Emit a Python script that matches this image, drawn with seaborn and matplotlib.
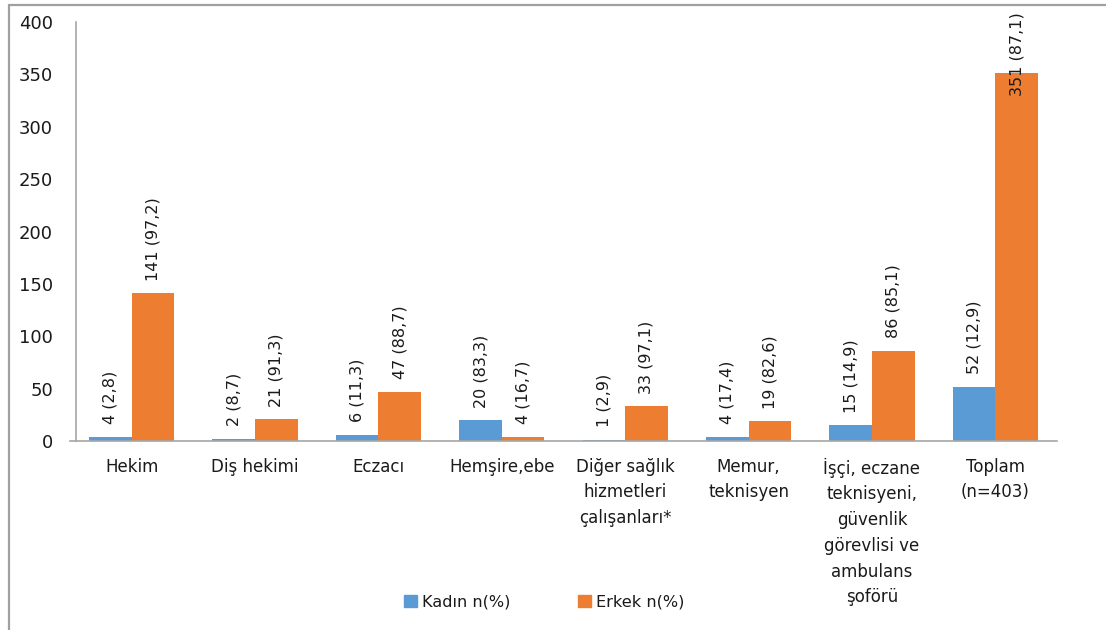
import matplotlib
matplotlib.use("Agg")
import matplotlib.pyplot as plt
import seaborn as sns
import pandas as pd
from matplotlib.lines import Line2D

categories = ["Hekim", "Diş hekimi", "Eczacı", "Hemşire,ebe",
              "Diğer sağlık\nhizmetleri\nçalışanları*", "Memur,\nteknisyen",
              "İşçi, eczane\nteknisyeni,\ngüvenlik\ngörevlisi ve\nambulans\nşoförü",
              "Toplam\n(n=403)"]
kadin_n = [4, 2, 6, 20, 1, 4, 15, 52]
kadin_pct = ["2,8", "8,7", "11,3", "83,3", "2,9", "17,4", "14,9", "12,9"]
erkek_n = [141, 21, 47, 4, 33, 19, 86, 351]
erkek_pct = ["97,2", "91,3", "88,7", "16,7", "97,1", "82,6", "85,1", "87,1"]
series = ["Kadın n(%)", "Erkek n(%)"]
colors = ["#5B9BD5", "#ED7D31"]
yticks = [0, 50, 100, 150, 200, 250, 300, 350, 400]

df = pd.DataFrame({
    "cat": categories * 2,
    "val": kadin_n + erkek_n,
    "grp": [series[0]] * len(categories) + [series[1]] * len(categories),
})

sns.set_style("white")
plt.rcParams["font.family"] = ["DejaVu Sans"]

fig = plt.figure(figsize=(11.06, 6.30), dpi=100)
ax = fig.add_axes([70 / 1106, 0.300, 987 / 1106, 0.665])
sns.barplot(data=df, x="cat", y="val", hue="grp", order=categories,
            hue_order=series, palette=colors, width=0.69, gap=0,
            saturation=1, ax=ax, legend=False, errorbar=None, linewidth=0)

labels = [[f"{n} ({p})" for n, p in zip(kadin_n, kadin_pct)],
          [f"{n} ({p})" for n, p in zip(erkek_n, erkek_pct)]]
anns = []
for cont, labs in zip(ax.containers, labels):
    anns += ax.bar_label(cont, labels=labs, rotation=90, padding=9,
                         fontsize=11.5, color="#1a1a1a")

ax.set_ylim(0, 400)
ax.set_yticks(yticks)
ax.set_xlim(-0.5, 7.5)
ax.set_xlabel("")
ax.set_ylabel("")
ax.tick_params(axis="y", length=0, pad=16.5, labelsize=13, colors="#1a1a1a")
ax.tick_params(axis="x", length=0, pad=12, labelsize=12, colors="#1a1a1a")
for lab in ax.get_xticklabels():
    lab.set_linespacing(1.55)
    lab.set_verticalalignment("top")
for s in ["top", "right"]:
    ax.spines[s].set_visible(False)
ax.spines["left"].set_position(("data", -0.5 + 6 / 123.4))
for s in ["left", "bottom"]:
    ax.spines[s].set_color("#A6A6A6")
    ax.spines[s].set_linewidth(1.2)

# labels that would run off the top are pulled down inside the plot area
fig.canvas.draw()
renderer = fig.canvas.get_renderer()
top_px = ax.get_window_extent(renderer).y1
for ann in anns:
    ext = ann.get_window_extent(renderer)
    if ext.y1 > top_px + 10:
        ann.xy = (ann.xy[0], ax.get_ylim()[1])
        ann.set_verticalalignment("top")
        ann.xyann = (0, 7.2)

handles = [plt.Rectangle((0, 0), 1, 1, color=c) for c in colors]
fig.legend(handles, series, loc="center", bbox_to_anchor=(0.492, 0.044),
           ncol=2, frameon=False, fontsize=11.6, handlelength=0.8,
           handleheight=0.8, handletextpad=0.3, columnspacing=4.2,
           labelcolor="#1a1a1a")

# outer frame (left and top edges)
fig.add_artist(Line2D([0.0085, 0.0085], [0, 0.992], transform=fig.transFigure,
                      color="#A0A0A0", lw=1.6))
fig.add_artist(Line2D([0.0085, 1.0], [0.992, 0.992], transform=fig.transFigure,
                      color="#A0A0A0", lw=1.6))

fig.savefig("out.png", dpi=100)
